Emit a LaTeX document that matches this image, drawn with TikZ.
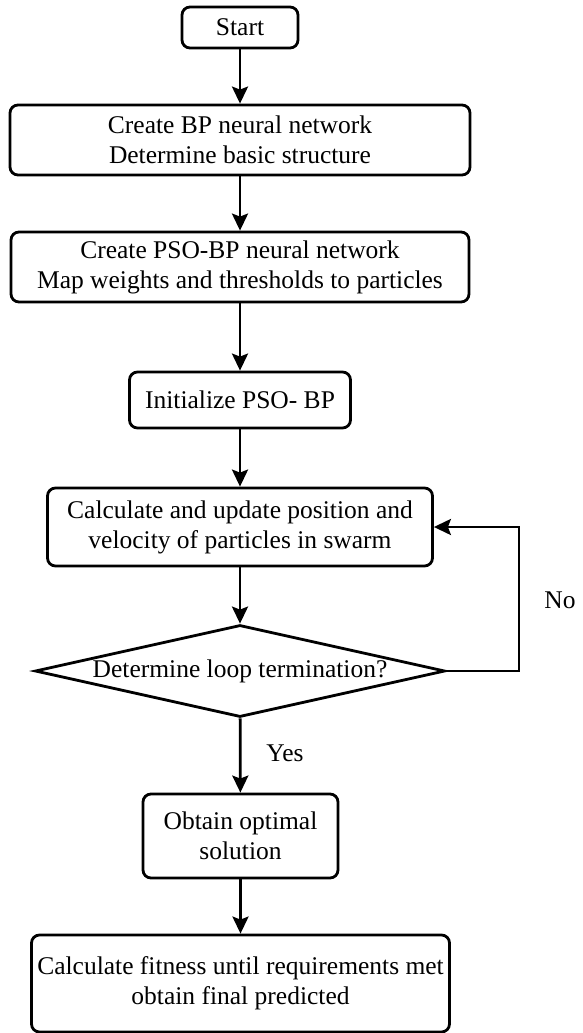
\documentclass[tikz,border=0pt]{standalone}
\usepackage{fontspec}
\setmainfont{Liberation Serif}
\usetikzlibrary{shapes.geometric,arrows.meta}

\begin{document}
\begin{tikzpicture}[x=1pt,y=-1pt,
  every node/.style={font=\fontsize{25.5}{30}\selectfont, align=center, inner sep=0pt},
  procbox/.style={draw, line width=2.8pt, rounded corners=8pt},
  decbox/.style={draw, line width=2.8pt, shape=diamond, aspect=4.46, line join=miter},
  flow/.style={line width=2.8pt, -{Stealth[length=17pt,width=16pt,inset=3pt]}}]

  \useasboundingbox (0,0) rectangle (583,1033);

  % process steps
  \node[procbox, minimum width=116pt, minimum height=41pt] (start) at (240,27.5) {Start};
  \node[procbox, minimum width=460pt, minimum height=70pt] (bp) at (240,140)
    {Create BP neural network\\Determine basic structure};
  \node[procbox, minimum width=458pt, minimum height=70pt] (psobp) at (240,267)
    {Create PSO-BP neural network\\Map weights and thresholds to particles};
  \node[procbox, minimum width=221pt, minimum height=56pt] (init) at (240,400)
    {Initialize PSO- BP};
  \node[procbox, minimum width=385pt, minimum height=78pt] (update) at (240,527)
    {Calculate and update position and\\velocity of particles in swarm};

  % loop test
  \node[decbox, minimum width=410pt, minimum height=92pt] (test) at (240,671)
    {Determine loop termination?};

  \node[procbox, minimum width=195pt, minimum height=84pt] (opt) at (240.5,836)
    {Obtain optimal\\solution};
  \node[procbox, minimum width=418pt, minimum height=97pt] (final) at (240.5,983.5)
    {Calculate fitness until requirements met\\obtain final predicted};

  % main flow
  \draw[flow] (start) -- (bp);
  \draw[flow] (bp) -- (psobp);
  \draw[flow] (psobp) -- (init);
  \draw[flow] (init) -- (update);
  \draw[flow] (update) -- (test);
  \draw[flow] (test) -- (opt);
  \draw[flow] (opt) -- (final);

  % feedback loop
  \coordinate (loopcorner) at (519,671);
  \draw[flow, line join=miter] (test.east) -- (loopcorner) |- (update.east);

  % branch labels
  \node (yes) at (285,753) {Yes};
  \node (no) at (560,600) {No};
\end{tikzpicture}
\end{document}
